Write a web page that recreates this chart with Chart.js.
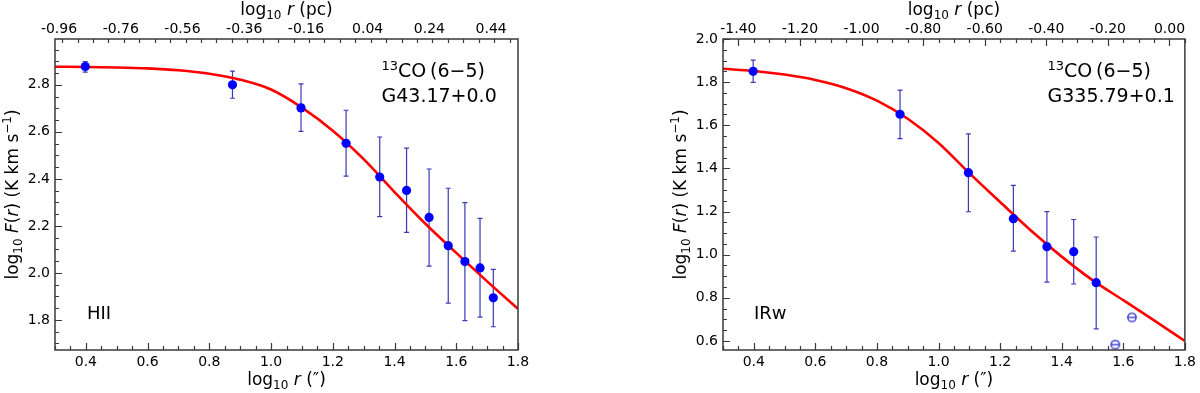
<!DOCTYPE html>
<html>
<head>
<meta charset="utf-8">
<script src="https://cdn.jsdelivr.net/npm/chart.js@4.4.0/dist/chart.umd.min.js"></script>
<style>
  body { margin: 0; background: #fff; }
  #wrap { position: relative; width: 1200px; height: 393px; }
  canvas { position: absolute; top: 0; }
</style>
</head>
<body>
<div id="wrap">
  <canvas id="chartHII" width="600" height="393" style="left:0"></canvas>
  <canvas id="chartIRw" width="600" height="393" style="left:600px"></canvas>
</div>
<script>
// G43.17+0.0 (HII) - radial profile, log10 r (arcsec) vs log10 F(r)
const hiiLogR  = [0.398, 0.875, 1.097, 1.243, 1.352, 1.439, 1.512, 1.574, 1.628, 1.677, 1.720];
const hiiLogF  = [2.878, 2.800, 2.702, 2.551, 2.408, 2.351, 2.236, 2.116, 2.048, 2.021, 1.894];
const hiiErrLo = [2.854, 2.743, 2.602, 2.412, 2.239, 2.172, 2.029, 1.871, 1.797, 1.812, 1.771];
const hiiErrHi = [2.899, 2.858, 2.804, 2.692, 2.578, 2.531, 2.442, 2.360, 2.299, 2.232, 2.015];
const hiiFitR  = [0.3, 0.4, 0.5, 0.6, 0.7, 0.8, 0.9, 1.0, 1.1, 1.2, 1.3, 1.4, 1.5, 1.6, 1.7, 1.8];
const hiiFitF  = [2.877, 2.876, 2.874, 2.870, 2.862, 2.847, 2.822, 2.780, 2.703, 2.605, 2.484, 2.344, 2.209, 2.085, 1.964, 1.847];
const hiiTicksX  = [0.4, 0.6, 0.8, 1.0, 1.2, 1.4, 1.6, 1.8];
const hiiTicksY  = [1.8, 2.0, 2.2, 2.4, 2.6, 2.8];
const hiiTicksPc = [-0.96, -0.76, -0.56, -0.36, -0.16, 0.04, 0.24, 0.44];
const hiiPcOffset = -1.273;

// G335.79+0.1 (IRw)
const irwLogR  = [0.398, 0.875, 1.097, 1.243, 1.352, 1.439, 1.512];
const irwLogF  = [1.850, 1.651, 1.380, 1.167, 1.037, 1.014, 0.870];
const irwErrLo = [1.799, 1.538, 1.199, 1.016, 0.873, 0.864, 0.656];
const irwErrHi = [1.902, 1.763, 1.560, 1.321, 1.200, 1.163, 1.082];
const irwOpenR = [1.574, 1.628];
const irwOpenF = [0.583, 0.709];
const irwFitR  = [0.3, 0.4, 0.5, 0.6, 0.7, 0.8, 0.9, 1.0, 1.1, 1.2, 1.3, 1.4, 1.5, 1.6, 1.7, 1.8];
const irwFitF  = [1.862, 1.852, 1.835, 1.810, 1.772, 1.714, 1.630, 1.518, 1.378, 1.244, 1.112, 0.991, 0.882, 0.789, 0.695, 0.600];
const irwTicksX  = [0.4, 0.6, 0.8, 1.0, 1.2, 1.4, 1.6, 1.8];
const irwTicksY  = [0.6, 0.8, 1.0, 1.2, 1.4, 1.6, 1.8, 2.0];
const irwTicksPc = [-1.40, -1.20, -1.00, -0.80, -0.60, -0.40, -0.20, 0.00];
const irwPcOffset = -1.75;

Chart.defaults.font.family = 'DejaVu Sans';
Chart.defaults.font.size = 14;
Chart.defaults.color = '#000';

const FRAME = '#3a3a3a';
const ERRCOL = '#3a3ab8';

function fontOf(r) {
  return (r[2] || '') + ' ' + r[1] + 'px "DejaVu Sans"';
}

// draw a row of text runs (sub/superscripts, italics)
function drawRuns(ctx, runs, x, y, align) {
  let total = 0;
  runs.forEach(r => { ctx.font = fontOf(r); total += ctx.measureText(r[0]).width; });
  let cx = align === 'center' ? x - total / 2 : x;
  ctx.textAlign = 'left';
  ctx.textBaseline = 'alphabetic';
  runs.forEach(r => {
    ctx.font = fontOf(r);
    ctx.fillText(r[0], cx, y + (r[3] || 0));
    cx += ctx.measureText(r[0]).width;
  });
}

function ominus(color) {
  const c = document.createElement('canvas');
  c.width = 12; c.height = 12;
  const g = c.getContext('2d');
  g.strokeStyle = color; g.lineWidth = 1.3;
  g.beginPath(); g.arc(6, 6, 4.2, 0, Math.PI * 2); g.stroke();
  g.beginPath(); g.moveTo(1.8, 6); g.lineTo(10.2, 6); g.stroke();
  return c;
}

function minorList(min, max, step) {
  const out = [];
  for (let k = Math.ceil(min / step - 1e-9); k * step <= max + 1e-9; k++) out.push(k * step);
  return out;
}

function decorPlugin(p) {
  return {
    id: 'decor',
    beforeDatasetsDraw(chart) {
      const ctx = chart.ctx, xs = chart.scales.x, ys = chart.scales.y;
      ctx.save();
      ctx.strokeStyle = ERRCOL;
      ctx.lineWidth = 1.2;
      p.errR.forEach((r, i) => {
        const px = xs.getPixelForValue(r);
        const y1 = ys.getPixelForValue(p.errLo[i]);
        const y2 = ys.getPixelForValue(p.errHi[i]);
        ctx.beginPath();
        ctx.moveTo(px, y1); ctx.lineTo(px, y2);
        ctx.moveTo(px - 2.5, y1); ctx.lineTo(px + 2.5, y1);
        ctx.moveTo(px - 2.5, y2); ctx.lineTo(px + 2.5, y2);
        ctx.stroke();
      });
      ctx.restore();
    },
    afterDraw(chart) {
      const ctx = chart.ctx, a = chart.chartArea;
      const xs = chart.scales.x, ys = chart.scales.y, x2 = chart.scales.x2;
      ctx.save();
      ctx.strokeStyle = FRAME;
      ctx.lineWidth = 1.2;
      ctx.beginPath();
      // bottom ticks
      minorList(xs.min, xs.max, 0.05).forEach(v => {
        const px = Math.round(xs.getPixelForValue(v)) + 0.5;
        const len = Math.abs(v / 0.2 - Math.round(v / 0.2)) < 1e-6 ? 7 : 4;
        ctx.moveTo(px, a.bottom); ctx.lineTo(px, a.bottom - len);
      });
      // top ticks (pc)
      minorList(x2.min, x2.max, 0.05).forEach(v => {
        const px = Math.round(x2.getPixelForValue(v)) + 0.5;
        const major = p.pcTicks.some(t => Math.abs(t - v) < 1e-6);
        ctx.moveTo(px, a.top); ctx.lineTo(px, a.top + (major ? 7 : 4));
      });
      // left ticks
      minorList(ys.min, ys.max, 0.05).forEach(v => {
        const py = Math.round(ys.getPixelForValue(v)) + 0.5;
        const major = p.yTicks.some(t => Math.abs(t - v) < 1e-6);
        ctx.moveTo(a.left, py); ctx.lineTo(a.left + (major ? 7 : 4), py);
      });
      ctx.stroke();
      ctx.lineWidth = 1.5;
      ctx.strokeRect(a.left, a.top, a.right - a.left, a.bottom - a.top);

      ctx.fillStyle = '#000';
      // top tick labels
      ctx.font = '14px "DejaVu Sans"';
      ctx.textAlign = 'center';
      ctx.textBaseline = 'alphabetic';
      p.pcTicks.forEach(v => {
        ctx.fillText(v.toFixed(2), x2.getPixelForValue(v), 33);
      });

      const cx = (a.left + a.right) / 2;
      drawRuns(ctx, [['log', 17], ['10', 12, '', 4], [' ', 17], ['r', 17, 'italic'], [' (pc)', 17]], cx, 15, 'center');
      drawRuns(ctx, [['log', 17], ['10', 12, '', 4], [' ', 17], ['r', 17, 'italic'], [' (\u2033)', 17]], cx, 385, 'center');
      ctx.save();
      ctx.translate(p.yTitleX, (a.top + a.bottom) / 2);
      ctx.rotate(-Math.PI / 2);
      drawRuns(ctx, [['log', 17], ['10', 12, '', 4], [' ', 17], ['F', 17, 'italic'], ['(', 17], ['r', 17, 'italic'],
        [') (K km s', 17], ['\u22121', 12, '', -7], [')', 17]], 0, 0, 'center');
      ctx.restore();

      drawRuns(ctx, [['13', 13, '', -7], ['CO\u2009(6\u22125)', 19]], p.annX, 77, 'left');
      drawRuns(ctx, [[p.source, 19]], p.annX, 101.5, 'left');
      drawRuns(ctx, [[p.kind, 18]], p.kindX, 319, 'left');
      ctx.restore();
    }
  };
}

function makeChart(id, p) {
  const pts = p.r.map((r, i) => ({ x: r, y: p.f[i] }));
  const fit = p.fitR.map((r, i) => ({ x: r, y: p.fitF[i] }));
  const datasets = [
    { type: 'line', data: fit, borderColor: '#ff0000', borderWidth: 2.6, pointRadius: 0,
      cubicInterpolationMode: 'monotone', order: 2 },
    { type: 'scatter', data: pts, pointRadius: 4.6, backgroundColor: '#0000ff', borderWidth: 0, order: 1 }
  ];
  if (p.openR) {
    datasets.push({ type: 'scatter', data: p.openR.map((r, i) => ({ x: r, y: p.openF[i] })),
      pointStyle: ominus('#2a2ad0'), pointRadius: 5, order: 0 });
  }
  return new Chart(document.getElementById(id), {
    type: 'scatter',
    data: { datasets },
    options: {
      responsive: false,
      animation: false,
      events: [],
      layout: { padding: { left: 0, top: 0, bottom: 0, right: p.padRight } },
      plugins: { legend: { display: false }, tooltip: { enabled: false } },
      scales: {
        x: {
          type: 'linear', position: 'bottom', min: 0.3, max: 1.8,
          grid: { display: false, drawTicks: false }, border: { display: false },
          ticks: { padding: 4, callback: v => v.toFixed(1) },
          afterBuildTicks: s => { s.ticks = p.xTicks.map(v => ({ value: v })); },
          afterFit: s => { s.height = 43; }
        },
        x2: {
          type: 'linear', position: 'top', min: 0.3 + p.pcOffset, max: 1.8 + p.pcOffset,
          grid: { display: false, drawTicks: false }, border: { display: false },
          ticks: { display: false },
          afterFit: s => { s.height = 39; }
        },
        y: {
          type: 'linear', position: 'left', min: p.yMin, max: p.yMax,
          grid: { display: false, drawTicks: false }, border: { display: false },
          ticks: { padding: 5, callback: v => v.toFixed(1) },
          afterBuildTicks: s => { s.ticks = p.yTicks.map(v => ({ value: v })); },
          afterFit: s => { s.width = p.yWidth; }
        }
      }
    },
    plugins: [decorPlugin(p)]
  });
}

makeChart('chartHII', {
  r: hiiLogR, f: hiiLogF, errR: hiiLogR, errLo: hiiErrLo, errHi: hiiErrHi,
  fitR: hiiFitR, fitF: hiiFitF, xTicks: hiiTicksX, yTicks: hiiTicksY, pcTicks: hiiTicksPc,
  pcOffset: hiiPcOffset, yMin: 1.672, yMax: 2.995, yWidth: 55, padRight: 82,
  yTitleX: 18, annX: 381.5, source: 'G43.17+0.0', kind: 'HII', kindX: 87
});

makeChart('chartIRw', {
  r: irwLogR, f: irwLogF, errR: irwLogR, errLo: irwErrLo, errHi: irwErrHi,
  openR: irwOpenR, openF: irwOpenF,
  fitR: irwFitR, fitF: irwFitF, xTicks: irwTicksX, yTicks: irwTicksY, pcTicks: irwTicksPc,
  pcOffset: irwPcOffset, yMin: 0.558, yMax: 2.0, yWidth: 123, padRight: 13,
  yTitleX: 86, annX: 447.5, source: 'G335.79+0.1', kind: 'IRw', kindX: 154
});
</script>
</body>
</html>
